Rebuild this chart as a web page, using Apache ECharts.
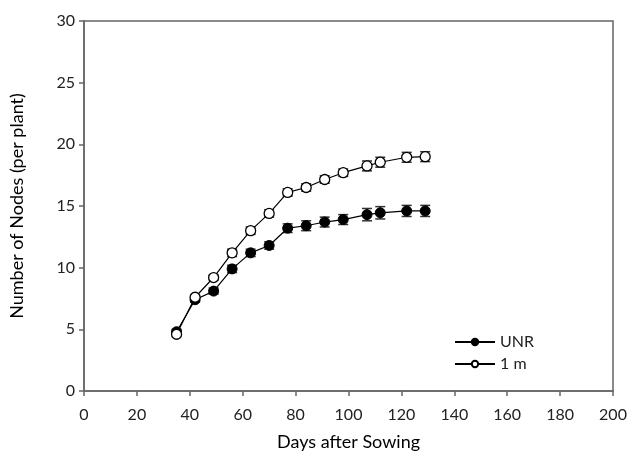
<!DOCTYPE html>
<html>
<head>
<meta charset="utf-8">
<script src="https://cdn.jsdelivr.net/npm/echarts@6/dist/echarts.min.js"></script>
<style>
html, body { margin: 0; padding: 0; background: #fff; }
#chart { width: 632px; height: 456px; }
</style>
</head>
<body>
<div id="chart"></div>
<script>
var days = [35, 42, 49, 56, 63, 70, 77, 84, 91, 98, 107, 112, 122, 129];
var unrMean = [4.8, 7.4, 8.1, 9.9, 11.2, 11.8, 13.2, 13.4, 13.7, 13.9, 14.3, 14.45, 14.6, 14.6];
var unrErr = [0.2, 0.2, 0.25, 0.3, 0.3, 0.3, 0.35, 0.4, 0.4, 0.4, 0.5, 0.5, 0.45, 0.45];
var oneMean = [4.6, 7.6, 9.2, 11.2, 13.0, 14.4, 16.1, 16.5, 17.15, 17.7, 18.25, 18.55, 18.95, 19.0];
var oneErr = [0.2, 0.2, 0.2, 0.3, 0.3, 0.3, 0.3, 0.3, 0.3, 0.3, 0.4, 0.4, 0.4, 0.4];
var xTicks = [0, 20, 40, 60, 80, 100, 120, 140, 160, 180, 200];
var yTicks = [0, 5, 10, 15, 20, 25, 30];

var chart = echarts.init(document.getElementById('chart'));
var font = 'Lato, "Open Sans", sans-serif';

function pairs(xs, ys) {
    var out = [];
    for (var i = 0; i < xs.length; i++) out.push([xs[i], ys[i]]);
    return out;
}
function triples(xs, ys, es) {
    var out = [];
    for (var i = 0; i < xs.length; i++) out.push([xs[i], ys[i], es[i]]);
    return out;
}

// error bars with small caps
function errorBar(params, api) {
    var x = api.value(0), y = api.value(1), e = api.value(2);
    var top = api.coord([x, y + e]);
    var bot = api.coord([x, y - e]);
    var w = 5;
    var style = { stroke: '#333', lineWidth: 1.5 };
    return {
        type: 'group',
        children: [
            { type: 'line', shape: { x1: top[0], y1: top[1], x2: bot[0], y2: bot[1] }, style: style },
            { type: 'line', shape: { x1: top[0] - w, y1: top[1], x2: top[0] + w, y2: top[1] }, style: style },
            { type: 'line', shape: { x1: bot[0] - w, y1: bot[1], x2: bot[0] + w, y2: bot[1] }, style: style }
        ]
    };
}

var option = {
    animation: false,
    backgroundColor: '#fff',
    grid: {
        left: 84, right: 19, top: 21, bottom: 65,
        outerBoundsMode: 'none',
        containLabel: false,
        show: true, borderColor: '#666', borderWidth: 1.5
    },
    legend: {
        orient: 'vertical',
        left: 449, top: 329,
        itemWidth: 40, itemHeight: 8, itemGap: 6,
        textStyle: { fontFamily: font, fontSize: 16, color: '#222' },
        data: ['UNR', '1 m']
    },
    xAxis: {
        type: 'value',
        min: xTicks[0], max: xTicks[xTicks.length - 1], interval: 20,
        name: 'Days after Sowing',
        nameLocation: 'middle', nameGap: 42,
        nameTextStyle: { fontFamily: font, fontSize: 18, color: '#000' },
        axisLine: { show: true, lineStyle: { color: '#666', width: 1.5 } },
        axisTick: { show: true, length: 5, lineStyle: { color: '#666', width: 1.5 } },
        axisLabel: { fontFamily: font, fontSize: 16, color: '#222', margin: 16 },
        splitLine: { show: false }
    },
    yAxis: {
        type: 'value',
        min: yTicks[0], max: yTicks[yTicks.length - 1], interval: 5,
        name: 'Number of Nodes (per plant)',
        nameLocation: 'middle', nameGap: 58, nameRotate: 90,
        nameTextStyle: { fontFamily: font, fontSize: 18, color: '#000' },
        axisLine: { show: true, lineStyle: { color: '#666', width: 1.5 } },
        axisTick: { show: true, length: 5, lineStyle: { color: '#666', width: 1.5 } },
        axisLabel: { fontFamily: font, fontSize: 16, color: '#222', margin: 9 },
        splitLine: { show: false }
    },
    series: [
        {
            type: 'custom', name: 'errUNR', renderItem: errorBar,
            data: triples(days, unrMean, unrErr), z: 1, silent: true
        },
        {
            type: 'custom', name: 'err1m', renderItem: errorBar,
            data: triples(days, oneMean, oneErr), z: 1, silent: true
        },
        {
            name: 'UNR', type: 'line', data: pairs(days, unrMean), z: 3,
            symbol: 'circle', symbolSize: 10,
            lineStyle: { color: '#000', width: 1.2 },
            itemStyle: { color: '#000', borderColor: '#000', borderWidth: 1 }
        },
        {
            name: '1 m', type: 'line', data: pairs(days, oneMean), z: 3,
            symbol: 'circle', symbolSize: 10,
            lineStyle: { color: '#000', width: 1.2 },
            itemStyle: { color: '#fff', borderColor: '#000', borderWidth: 1.3 }
        }
    ]
};
chart.setOption(option);
</script>
</body>
</html>
